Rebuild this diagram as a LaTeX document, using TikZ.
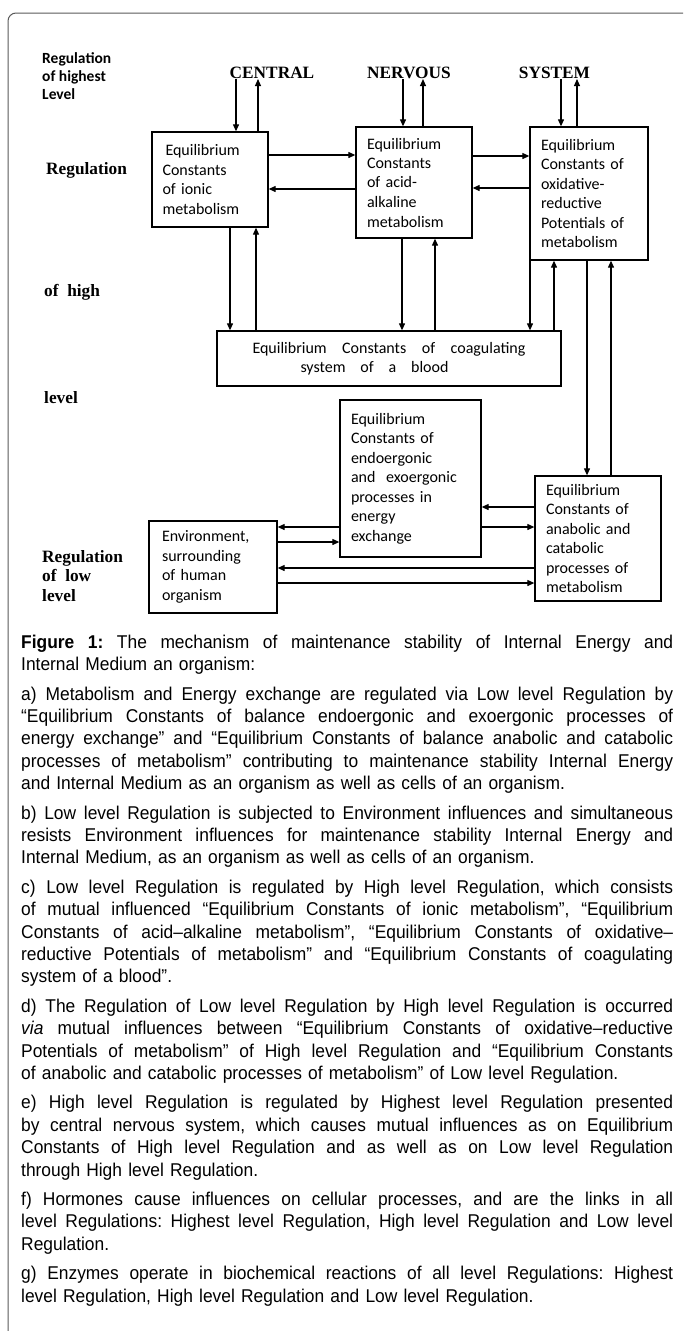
\documentclass[tikz,border=0pt]{standalone}
\usepackage{fontspec}
\usetikzlibrary{arrows.meta,calc}
\setmainfont{Liberation Sans}
\newfontfamily\boxfont{Carlito}
\newfontfamily\lblserif{Liberation Serif}
\newfontfamily\capfont{Liberation Sans}[FakeStretch=0.94]
\newcommand{\JL}[1]{\makebox[652pt][s]{\frenchspacing\spaceskip=0pt\xspaceskip=0pt #1}\\}
\newcommand{\SpreadBox}[2]{\makebox[#1][s]{\spaceskip=0pt\xspaceskip=0pt #2}}
\begin{document}
\begin{tikzpicture}[x=1pt,y=-1pt,
  box/.style={draw=black, line width=1.3pt, rectangle, inner sep=0pt, align=left,
    font=\boxfont\fontsize{16}{19.5}\selectfont},
  arr/.style={-{Triangle[length=7pt,width=6pt]}, line width=1.1pt},
  toplbl/.style={font=\lblserif\bfseries\fontsize{17.3}{20}\selectfont, inner sep=0pt},
  sidelbl/.style={font=\lblserif\bfseries\fontsize{17.3}{19.5}\selectfont, inner sep=0pt, anchor=west, align=left},
  sanslbl/.style={font=\boxfont\bfseries\fontsize{15.5}{18}\selectfont, inner sep=0pt, anchor=west, align=left},
]
\useasboundingbox (0,0) rectangle (683,1331);
\clip (0,0) rectangle (683,1331);
\draw[line width=1pt, draw=black!65, rounded corners=8pt] (8,13) rectangle (700,1345);

% side labels
\node[sanslbl] (lhighest) at (42,76) {Regulation\\of highest\\Level};
\node[sidelbl] (lreg) at (46,170) {Regulation};
\node[sidelbl] (lofhigh) at (44,292) {of\ \ high};
\node[sidelbl] (llevel) at (44,398) {level};
\node[sidelbl] (llow) at (42,576) {Regulation\\of\ \ low\\level};

% top labels
\node[toplbl] (cen) at (272,73) {CENTRAL};
\node[toplbl] (ner) at (409,73) {NERVOUS};
\node[toplbl] (sys) at (554.5,73) {SYSTEM};

% boxes
\node[box, minimum width=116pt, minimum height=95pt, text width=95pt] (b1) at (210,179.5)
  {\hspace{3pt}Equilibrium\\Constants\\of ionic\\metabolism};
\node[box, minimum width=116pt, minimum height=111pt, text width=94pt] (b2) at (414,182.5)
  {Equilibrium\\Constants\\of acid-\\alkaline\\metabolism};
\node[box, minimum width=118pt, minimum height=133pt, text width=96pt] (b3) at (589,193.5)
  {Equilibrium\\Constants of\\oxidative-\\reductive\\Potentials of\\metabolism};
\node[box, minimum width=344pt, minimum height=55pt, text width=273pt] (coag) at (389,358.5)
  {\SpreadBox{273pt}{Equilibrium Constants of coagulating}\\\hspace*{48pt}\SpreadBox{148pt}{system of a blood}};
\node[box, minimum width=141pt, minimum height=157pt, text width=119pt] (endo) at (410.5,478.5)
  {Equilibrium\\Constants of\\endoergonic\\and\ \ exoergonic\\processes in\\energy\\exchange};
\node[box, minimum width=126pt, minimum height=125pt, text width=104pt] (anab) at (598,538.5)
  {Equilibrium\\Constants of\\anabolic and\\catabolic\\processes of\\metabolism};
\node[box, minimum width=128pt, minimum height=92pt, text width=102pt] (env) at (213,567)
  {Environment,\\surrounding\\of human\\organism};

% column / row coordinates
\coordinate (c1d) at (236,0); \coordinate (c1u) at (258,0);
\coordinate (c2d) at (403,0); \coordinate (c2u) at (423,0);
\coordinate (c3d) at (561,0); \coordinate (c3u) at (577,0);
\coordinate (v1d) at (230,0); \coordinate (v1u) at (256,0);
\coordinate (v2d) at (402,0); \coordinate (v2u) at (435,0);
\coordinate (v3d) at (530,0); \coordinate (v3u) at (554,0);
\coordinate (v4d) at (587,0); \coordinate (v4u) at (611,0);
\coordinate (r1) at (0,155); \coordinate (r2) at (0,189);
\coordinate (r3) at (0,156); \coordinate (r4) at (0,188);
\coordinate (l1) at (0,507); \coordinate (l2) at (0,527);
\coordinate (l3) at (0,542); \coordinate (l4) at (0,568);
\coordinate (l5) at (0,583);

% top arrows
\draw[arr] (c1d |- cen.south) -- (c1d |- b1.north);
\draw[arr] (c1u |- b1.north) -- (c1u |- cen.south);
\draw[arr] (c2d |- ner.south) -- (c2d |- b2.north);
\draw[arr] (c2u |- b2.north) -- (c2u |- ner.south);
\draw[arr] (c3d |- sys.south) -- (c3d |- b3.north);
\draw[arr] (c3u |- b3.north) -- (c3u |- sys.south);

% horizontal arrows top row
\draw[arr] (b1.east |- r1) -- (b2.west |- r1);
\draw[arr] (b2.west |- r2) -- (b1.east |- r2);
\draw[arr] (b2.east |- r3) -- (b3.west |- r3);
\draw[arr] (b3.west |- r4) -- (b2.east |- r4);

% vertical arrows to coagulating box
\draw[arr] (v1d |- b1.south) -- (v1d |- coag.north);
\draw[arr] (v1u |- coag.north) -- (v1u |- b1.south);
\draw[arr] (v2d |- b2.south) -- (v2d |- coag.north);
\draw[arr] (v2u |- coag.north) -- (v2u |- b2.south);
\draw[arr] (v3d |- b3.south) -- (v3d |- coag.north);
\draw[arr] (v3u |- coag.north) -- (v3u |- b3.south);
\draw[arr] (v4d |- b3.south) -- (v4d |- anab.north);
\draw[arr] (v4u |- anab.north) -- (v4u |- b3.south);

% lower arrows
\draw[arr] (anab.west |- l1) -- (endo.east |- l1);
\draw[arr] (endo.east |- l2) -- (anab.west |- l2);
\draw[arr] (endo.west |- l2) -- (env.east |- l2);
\draw[arr] (env.east |- l3) -- (endo.west |- l3);
\draw[arr] (anab.west |- l4) -- (env.east |- l4);
\draw[arr] (env.east |- l5) -- (anab.west |- l5);

% caption
\node[anchor=north west, inner sep=0pt, text width=652pt, align=left,
  font=\capfont\fontsize{18.5}{22.4}\selectfont\frenchspacing] (cap) at (21,634) {%
\JL{\rule{0pt}{14pt}\textbf{Figure 1:} The mechanism of maintenance stability of Internal Energy and}
Internal Medium an organism:\\[7pt]
\JL{a) Metabolism and Energy exchange are regulated via Low level Regulation by}
\JL{“Equilibrium Constants of balance endoergonic and exoergonic processes of}
\JL{energy exchange” and “Equilibrium Constants of balance anabolic and catabolic}
\JL{processes of metabolism” contributing to maintenance stability Internal Energy}
and Internal Medium as an organism as well as cells of an organism.\\[7pt]
\JL{b) Low level Regulation is subjected to Environment influences and simultaneous}
\JL{resists Environment influences for maintenance stability Internal Energy and}
Internal Medium, as an organism as well as cells of an organism.\\[7pt]
\JL{c) Low level Regulation is regulated by High level Regulation, which consists}
\JL{of mutual influenced “Equilibrium Constants of ionic metabolism”, “Equilibrium}
\JL{Constants of acid–alkaline metabolism”, “Equilibrium Constants of oxidative–}
\JL{reductive Potentials of metabolism” and “Equilibrium Constants of coagulating}
system of a blood”.\\[7pt]
\JL{d) The Regulation of Low level Regulation by High level Regulation is occurred}
\JL{\textit{via} mutual influences between “Equilibrium Constants of oxidative–reductive}
\JL{Potentials of metabolism” of High level Regulation and “Equilibrium Constants}
of anabolic and catabolic processes of metabolism” of Low level Regulation.\\[7pt]
\JL{e) High level Regulation is regulated by Highest level Regulation presented}
\JL{by central nervous system, which causes mutual influences as on Equilibrium}
\JL{Constants of High level Regulation and as well as on Low level Regulation}
through High level Regulation.\\[7pt]
\JL{f) Hormones cause influences on cellular processes, and are the links in all}
\JL{level Regulations: Highest level Regulation, High level Regulation and Low level}
Regulation.\\[7pt]
\JL{g) Enzymes operate in biochemical reactions of all level Regulations: Highest}
level Regulation, High level Regulation and Low level Regulation.};
\end{tikzpicture}
\end{document}
